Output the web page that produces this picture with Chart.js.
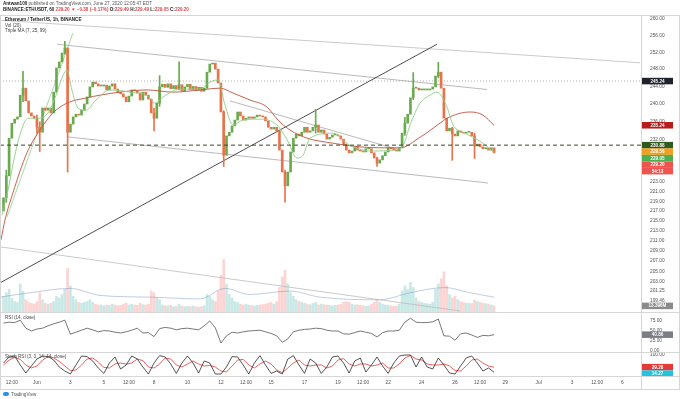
<!DOCTYPE html>
<html>
<head>
<meta charset="utf-8">
<script src="https://cdn.jsdelivr.net/npm/chart.js@4.4.0/dist/chart.umd.min.js"></script>
<style>
html, body { margin: 0; padding: 0; background: #fff; }
#wrap { position: relative; width: 680px; height: 399px; overflow: hidden; font-family: "Liberation Sans", Arial, sans-serif; color: #333; }
canvas { position: absolute; left: 0; }
.t { position: absolute; white-space: nowrap; font-size: 4.6px; line-height: 5px; }
.sep { position: absolute; left: 0; width: 680px; height: 1px; background: #d6d6d6; }
.r { color: #e0464b; }
</style>
</head>
<body>
<div id="wrap">
  <canvas id="main" width="680" height="297" style="top:15px"></canvas>
  <canvas id="rsi" width="680" height="40" style="top:312px"></canvas>
  <canvas id="stoch" width="680" height="37" style="top:352px"></canvas>

  <div class="sep" style="top:312px"></div>
  <div class="sep" style="top:352px"></div>
  <div class="sep" style="top:376px"></div>
  <div style="position:absolute;left:641px;top:376px;width:1px;height:13px;background:#d6d6d6"></div>
  <div style="position:absolute;left:0;top:15px;width:678px;height:373px;border:1px solid #d6d6d6"></div>

  <div class="t" style="left:3px;top:1px;color:#555"><b style="color:#222">Antwan100</b> published on TradingView.com, June 27, 2020 12:05:47 EDT</div>
  <div class="t" style="left:3px;top:7px;color:#222;font-weight:bold">BINANCE:ETHUSDT, 60 <span class="r">229.20 ▼ −0.38 (−0.17%)</span> O:<span class="r">229.49</span> H:<span class="r">229.49</span> L:<span class="r">229.05</span> C:<span class="r">229.20</span></div>

  <div class="t" style="left:5px;top:17px;color:#222;font-weight:bold">Ethereum / TetherUS, 1h, BINANCE</div>
  <div class="t" style="left:5px;top:23px;color:#444">Vol (20)</div>
  <div class="t" style="left:5px;top:28px;color:#444">Triple MA (7, 25, 99)</div>
  <div class="t" style="left:5px;top:315px;color:#444">RSI (14, close)</div>
  <div class="t" style="left:5px;top:354px;color:#444">Stoch RSI (3, 3, 14, 14, close)</div>

  <div style="position:absolute;left:3px;top:392px;width:6px;height:4px;border-radius:2px;background:#2e8ee8"></div>
  <div class="t" style="left:11px;top:391.5px;color:#555">TradingView</div>
</div>

<script>
const FONT = '"Liberation Sans", Arial, sans-serif';

// time axis in days from Jun 1 00:00
const xMin = -2.21, xMax = 36.12;
const xTickDays = [-1.5, 0, 2, 4, 5.5, 7, 9, 11, 12.5, 14, 16, 18, 19.5, 21, 23, 25, 26.5, 28, 30, 32, 33.5, 35];
const xTickLabels = ['12:00', 'Jun', '3', '5', '12:00', '8', '10', '12', '12:00', '15', '17', '19', '12:00', '22', '24', '26', '12:00', '29', 'Jul', '3', '12:00', '6'];

const priceTicks = [260, 256, 252, 248, 244, 240, 236, 232, 228, 223, 221, 219, 217, 215, 213, 211, 209, 207, 205, 203, 201.25, 199.46];

// 4h candles, first one at day -2
const firstOpen = 217.0;
const closes = [
  219.7,224.3,232.4,235.7,236.6,237.1,242.0,243.6,240.7,238.0,
  237.3,236.8,234.8,233.7,239.1,238.6,239.1,238.0,242.7,248.3,
  249.7,251.8,253.0,233.7,235.5,237.1,237.7,237.5,238.6,240.0,
  241.6,243.9,245.0,244.6,244.1,244.1,244.3,243.2,244.1,244.6,
  243.4,242.7,242.3,241.6,240.5,241.8,243.2,243.0,242.5,240.9,
  242.7,242.0,241.1,238.0,236.8,240.2,243.9,244.5,243.8,244.6,
  243.5,244.2,243.4,244.4,243.0,243.9,244.5,243.3,244.0,243.1,
  243.8,242.9,243.6,247.3,249.2,249.4,248.0,244.8,238.2,228.7,
  232.9,233.7,235.1,236.4,238.2,237.3,236.4,236.8,237.1,236.8,
  237.1,237.5,237.3,237.1,236.2,234.8,234.4,234.8,234.0,229.8,
  225.1,222.2,225.1,229.4,232.4,233.3,232.9,233.7,234.8,233.7,
  234.0,234.8,235.3,233.7,234.2,233.3,232.2,232.6,233.1,233.1,
  232.9,232.2,231.1,229.8,229.2,229.6,230.5,229.8,229.6,229.4,
  230.1,230.1,229.2,228.1,227.0,227.7,228.6,229.4,230.3,230.1,
  229.8,229.6,230.3,233.5,235.7,237.7,241.4,243.6,243.6,243.2,
  243.2,243.2,243.2,243.4,243.9,246.4,247.3,243.6,236.8,234.0,
  234.6,233.3,232.9,234.0,233.7,233.5,233.7,233.7,232.9,230.7,
  231.1,230.5,230.1,230.3,229.8,230.3,229.2
];
// [candle index, low, high] for the visible wicks
const wicks = [
  [1,218.8,225.5],[7,240.5,247.5],[12,233.5,237.5],[13,229.5,236.0],[22,251.5,254.6],
  [23,225.1,253.0],[54,234.0,239.0],[56,239.5,246.5],[63,243.2,249.7],[79,226.3,238.5],
  [101,218.8,225.5],[112,233.5,238.8],[134,226.3,228.3],[144,233.0,237.0],[147,241.0,247.2],
  [156,246.0,249.6],[161,227.6,234.8],[169,228.0,233.5]
];
// volume per 4h candle, millions
const volumes = [
  90,110,130,80,60,55,160,120,70,55,
  50,45,60,110,70,50,45,50,60,90,
  80,100,130,250,150,90,70,55,50,55,
  60,70,55,45,40,40,35,40,38,45,
  40,35,38,45,50,40,45,40,38,50,
  42,40,45,120,110,80,70,40,35,35,
  38,30,32,45,35,30,32,30,35,30,
  28,30,35,100,90,70,60,120,210,300,
  160,100,80,60,55,45,40,45,40,38,
  35,38,40,42,45,50,55,45,60,140,
  200,240,160,110,90,70,60,55,50,45,
  42,50,55,40,45,42,40,38,35,38,
  40,45,55,60,55,45,40,42,38,35,
  33,35,45,55,70,55,45,40,38,35,
  33,35,45,120,150,130,170,140,80,60,
  55,50,48,45,55,130,160,190,230,150,
  100,80,90,70,60,55,50,50,48,70,
  60,55,50,48,45,40,35
];
const volMaDays = [-2.21,-0.42,1.97,3.77,6.76,9.75,11.24,12.74,15.13,16.93,20.51,22.31,24.40,25.90,27.33];
const volMaVals = [85,110,135,95,85,75,135,100,120,85,70,110,140,110,85];

const ma25Days = [-2.09,-1.73,-1.38,-1.02,-0.54,0.06,0.66,1.14,1.56,1.79,2.09,2.45,2.93,3.53,4.37,5.56,6.64,7.06,7.54,8.55,9.75,10.35,10.83,11.24,11.72,12.32,13.34,14.35,14.95,15.55,15.91,16.33,17.70,18.72,20.10,21.29,21.89,22.31,22.91,23.50,23.92,24.52,24.88,25.48,26.08,26.67,27.33];
const ma25Vals = [216.2,221.3,227.7,233.1,236.8,236.8,238.0,242.0,246.6,247.8,243.2,239.1,238.6,240.9,243.2,242.7,241.8,240.2,241.6,243.4,243.4,245.0,245.5,239.8,235.3,236.4,236.6,235.3,232.1,228.1,228.7,232.4,233.5,230.8,229.6,229.8,230.8,235.3,240.2,242.0,242.7,239.3,235.3,233.7,232.6,231.3,229.3];
const ma99Days = [-2.15,-1.91,-1.44,-0.60,0.18,0.96,1.79,2.99,3.77,4.96,6.58,8.13,9.75,10.94,11.72,12.74,13.76,14.41,15.13,16.15,17.70,19.32,20.51,21.71,22.91,24.10,24.52,25.90,26.67,27.33];
const ma99Vals = [211.2,215.2,220.7,229.2,234.2,238.0,240.2,241.4,242.0,242.7,243.2,242.7,243.2,243.6,242.5,240.9,239.3,236.4,234.2,232.4,231.3,230.5,230.3,230.3,232.6,235.7,236.8,238.2,237.5,235.24];

// drawn lines: [[day, price], [day, price]]
const trendLines = [
  [[-2.21,202.8],[23.92,253.9]],
  [[-2.21,259.7],[36.06,249.5]],
  [[1.20,253.9],[26.91,243.3]],
  [[1.79,232.7],[26.97,222.8]],
  [[-2.21,209.8],[25.30,197.5]],
  [[11.54,240.7],[21.71,229.8]],
  [[-1.79,215.8],[2.15,256.6]]
];
const trendColors = ['#3a3a3a','#bdbdbd','#a8a8a8','#a8a8a8','#bdbdbd','#a8a8a8','#8fd08f'];
const dottedLevel = 245.24;
const dashedLevel = 230.88;

// indicators, one value every 2 candles (8h)
const rsi = [
  70,72,71,77,57,50,55,57,63,68,
  72,77,42,47,52,57,53,48,51,50,
  47,45,48,52,57,45,46,36,56,59,
  57,53,56,57,55,53,63,75,58,20,
  38,47,45,48,50,51,52,48,44,38,
  22,30,48,52,54,55,57,56,52,50,
  50,43,42,46,50,47,44,35,46,50,
  50,52,72,82,72,71,71,73,80,38,
  37,27,43,45,40,34,39,38,40.86
];
const stochK = [
  60,90,95,50,10,45,80,95,92,75,
  40,20,5,50,95,92,70,35,8,60,
  90,30,50,95,80,40,5,60,97,90,
  55,8,60,95,60,10,70,60,5,5,
  40,92,90,50,5,60,97,50,8,20,
  5,80,97,50,8,80,60,8,40,90,
  95,60,10,70,85,15,50,90,45,8,
  60,95,100,100,40,90,40,30,85,50,
  10,5,45,85,95,60,20,35,14.27
];
const stochD = [
  50,75,88,78,50,35,45,75,92,86,
  68,45,22,25,50,80,85,65,38,35,
  55,60,55,60,80,72,40,35,55,85,
  80,50,40,55,70,55,45,48,40,20,
  15,45,75,78,50,35,55,70,55,25,
  12,35,60,75,50,45,50,50,35,45,
  75,82,55,45,55,55,45,50,60,35,
  35,55,85,98,80,75,55,50,50,55,
  45,22,20,45,75,80,60,45,39.28
];

// last values shown as axis badges
const lastMa99 = 235.24, lastMa7 = 229.56, lastMa25 = 229.05, lastClose = 229.20, lastVolume = '13.396M';
const lastRsi = 40.86;

const UP = '#6aaa4e', DOWN = '#e8734a';
const candleDay = i => -2 + i / 6;
const opens = closes.map((c, i) => i === 0 ? firstOpen : closes[i - 1]);
const isUp = closes.map((c, i) => c >= opens[i]);

const badgePlugin = {
  id: 'badges',
  afterDraw(chart, args, opts) {
    const ctx = chart.ctx;
    const left = chart.chartArea.right + 1, w = 31, h = 6.5;
    let prev = -1e9;
    ctx.save();
    ctx.font = 'bold 4.6px ' + FONT;
    ctx.textAlign = 'center';
    ctx.textBaseline = 'middle';
    (opts.items || []).forEach(b => {
      let y = chart.scales[b.axis].getPixelForValue(b.value);
      if (y < prev + h) y = prev + h;
      prev = y;
      ctx.fillStyle = b.bg;
      ctx.fillRect(left, y - h / 2, w, h);
      ctx.fillStyle = b.fg || '#fff';
      ctx.fillText(b.text, left + w / 2, y + 0.3);
    });
    ctx.restore();
  }
};

function xScale(show) {
  return {
    type: 'linear', min: xMin, max: xMax, offset: false, display: show, position: 'bottom',
    grid: { display: false, drawTicks: false },
    border: { display: false },
    ticks: { color: '#555', font: { size: 4.8, family: FONT }, padding: 4, autoSkip: false, maxRotation: 0,
             callback: (v, i) => xTickLabels[i] },
    afterBuildTicks: s => { s.ticks = xTickDays.map(v => ({ value: v })); },
    afterFit: s => { s.paddingLeft = 0; s.paddingRight = 0; if (show) s.height = 13; }
  };
}

function yRight(extra, tickValues) {
  return Object.assign({
    position: 'right',
    grid: { display: false, drawTicks: false },
    border: { display: true, color: '#d6d6d6' },
    ticks: { color: '#555', font: { size: 4.8, family: FONT }, padding: 9, autoSkip: false,
             callback: v => Number(v).toFixed(2) },
    afterBuildTicks: s => { s.ticks = tickValues.map(v => ({ value: v })); },
    afterFit: s => { s.width = 39; s.paddingTop = 0; s.paddingBottom = 0; }
  }, extra);
}

const baseOptions = {
  responsive: false, animation: false, devicePixelRatio: 1, events: [],
  layout: { padding: 0 },
  plugins: { legend: { display: false }, tooltip: { enabled: false } }
};

function lineSet(days, vals, color, width, extra) {
  return Object.assign({
    type: 'line', data: days.map((d, i) => ({ x: d, y: vals[i] })),
    borderColor: color, borderWidth: width, pointRadius: 0, fill: false, tension: 0
  }, extra);
}

// ---------- main pane ----------
const mainSets = [];
mainSets.push({
  type: 'bar', yAxisID: 'yv', order: 20, grouped: false, barThickness: 2,
  data: volumes.map((v, i) => ({ x: candleDay(i), y: v })),
  backgroundColor: isUp.map(u => u ? 'rgba(38,166,154,0.25)' : 'rgba(239,83,80,0.25)')
});
mainSets.push(lineSet(volMaDays, volMaVals, 'rgba(110,140,190,0.55)', 0.8,
  { yAxisID: 'yv', order: 19, cubicInterpolationMode: 'monotone' }));
trendLines.forEach((l, k) => {
  mainSets.push(lineSet([l[0][0], l[1][0]], [l[0][1], l[1][1]], trendColors[k], k === 0 ? 0.9 : 0.8,
    { yAxisID: 'y', order: 15 }));
});
mainSets.push(lineSet([xMin, xMax], [dottedLevel, dottedLevel], '#9a9a9a', 0.8,
  { yAxisID: 'y', order: 14, borderDash: [1, 2] }));
mainSets.push(lineSet([xMin, xMax], [dashedLevel, dashedLevel], '#3d4a2a', 1,
  { yAxisID: 'y', order: 2, borderDash: [4, 3] }));
mainSets.push({
  type: 'bar', yAxisID: 'y', order: 8, grouped: false, barThickness: 1,
  data: wicks.map(w => ({ x: candleDay(w[0]), y: [w[1], w[2]] })),
  backgroundColor: wicks.map(w => isUp[w[0]] ? UP : DOWN)
});
mainSets.push({
  type: 'bar', yAxisID: 'y', order: 7, grouped: false, barThickness: 2, minBarLength: 1,
  data: closes.map((c, i) => ({ x: candleDay(i), y: [opens[i], c] })),
  backgroundColor: isUp.map(u => u ? UP : DOWN)
});
mainSets.push(lineSet(ma99Days, ma99Vals, '#c0503a', 0.9, { yAxisID: 'y', order: 5, cubicInterpolationMode: 'monotone' }));
mainSets.push(lineSet(ma25Days, ma25Vals, '#8ccf86', 0.9, { yAxisID: 'y', order: 4, cubicInterpolationMode: 'monotone' }));

new Chart(document.getElementById('main'), {
  type: 'bar',
  data: { datasets: mainSets },
  options: Object.assign({}, baseOptions, {
    scales: {
      x: xScale(false),
      y: yRight({ type: 'logarithmic', min: 197.31, max: 260.98 }, priceTicks),
      yv: { type: 'linear', display: false, min: 0, max: 1700, position: 'right' }
    },
    plugins: Object.assign({}, baseOptions.plugins, {
      badges: { items: [
        { axis: 'y', value: dottedLevel, text: dottedLevel.toFixed(2), bg: '#1e222d' },
        { axis: 'y', value: lastMa99, text: lastMa99.toFixed(2), bg: '#b71c1c' },
        { axis: 'y', value: dashedLevel, text: dashedLevel.toFixed(2), bg: '#2f5a1f' },
        { axis: 'y', value: lastMa7, text: lastMa7.toFixed(2), bg: '#f0a020' },
        { axis: 'y', value: lastMa25, text: lastMa25.toFixed(2), bg: '#4caf50' },
        { axis: 'y', value: lastClose, text: lastClose.toFixed(2), bg: '#ef5350' },
        { axis: 'y', value: lastClose, text: '54:13', bg: '#ef5350' },
        { axis: 'yv', value: volumes[volumes.length - 1], text: lastVolume, bg: '#8a8a8a' }
      ] }
    })
  }),
  plugins: [badgePlugin]
});

// ---------- RSI pane ----------
const indDay = k => -2 + k / 3;
new Chart(document.getElementById('rsi'), {
  type: 'line',
  data: { datasets: [lineSet(rsi.map((v, k) => indDay(k)), rsi, '#555', 0.8)] },
  options: Object.assign({}, baseOptions, {
    scales: { x: xScale(false), y: yRight({ type: 'linear', min: -2.5, max: 97.5 }, [75, 50, 25, 0]) },
    plugins: Object.assign({}, baseOptions.plugins, {
      badges: { items: [{ axis: 'y', value: lastRsi, text: lastRsi.toFixed(2), bg: '#7a7d86' }] }
    })
  }),
  plugins: [badgePlugin]
});

// ---------- Stoch RSI pane + time axis ----------
new Chart(document.getElementById('stoch'), {
  type: 'line',
  data: { datasets: [
    lineSet(stochK.map((v, k) => indDay(k)), stochK, '#2a2a2a', 0.8),
    lineSet(stochD.map((v, k) => indDay(k)), stochD, '#e53935', 0.8)
  ] },
  options: Object.assign({}, baseOptions, {
    scales: { x: xScale(true), y: yRight({ type: 'linear', min: -5, max: 115 }, [100]) },
    plugins: Object.assign({}, baseOptions.plugins, {
      badges: { items: [
        { axis: 'y', value: stochD[stochD.length - 1], text: stochD[stochD.length - 1].toFixed(2), bg: '#e53935' },
        { axis: 'y', value: stochK[stochK.length - 1], text: stochK[stochK.length - 1].toFixed(2), bg: '#22c3dd' }
      ] }
    })
  }),
  plugins: [badgePlugin]
});
</script>
</body>
</html>
